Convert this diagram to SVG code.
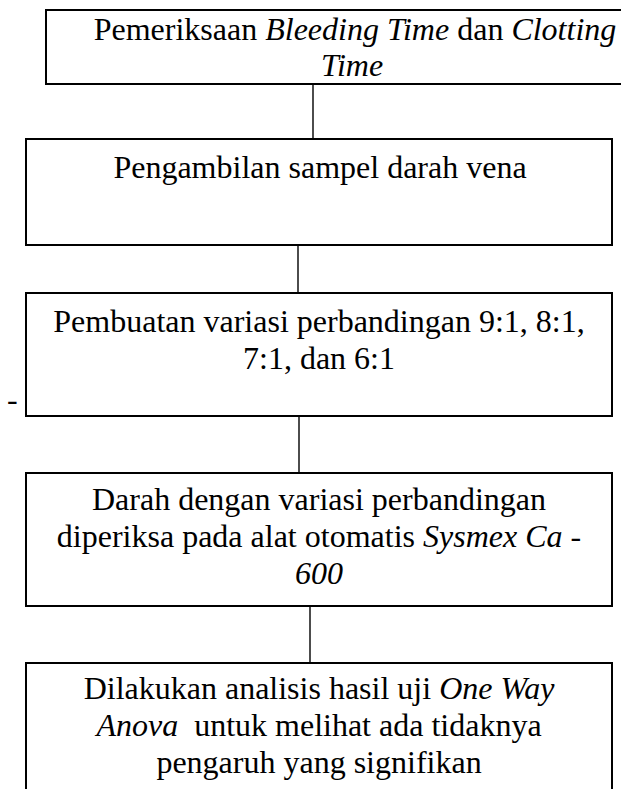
<svg xmlns="http://www.w3.org/2000/svg" width="621" height="789" viewBox="0 0 621 789">
<style>
.box{fill:#fff;stroke:#000;stroke-width:2}
.t{font-family:"Liberation Serif","Times New Roman",serif;font-size:32px;fill:#000;text-anchor:middle}
.i{font-style:italic}
.c{stroke:#000;stroke-width:1.4;fill:none}
</style>
<rect width="621" height="789" fill="#fff"/>
<g id="connectors">
<line class="c" x1="313" y1="84" x2="313" y2="139"/>
<line class="c" x1="298" y1="245" x2="298" y2="293"/>
<line class="c" x1="299" y1="416" x2="299" y2="473"/>
<line class="c" x1="310" y1="606" x2="310" y2="663"/>
</g>
<g id="node1">
<rect class="box" x="46" y="10" width="580" height="74"/>
<text class="t" x="355" y="40">Pemeriksaan <tspan class="i">Bleeding Time</tspan> dan <tspan class="i">Clotting</tspan></text>
<text class="t i" x="352" y="76">Time</text>
</g>
<g id="node2">
<rect class="box" x="26" y="139" width="586" height="106"/>
<text class="t" x="320" y="178">Pengambilan sampel darah vena</text>
</g>
<g id="node3">
<rect class="box" x="26" y="293" width="586" height="123"/>
<text class="t" x="319" y="332">Pembuatan variasi perbandingan 9:1, 8:1,</text>
<text class="t" x="319" y="369">7:1, dan 6:1</text>
</g>
<text x="7" y="410" style="font-family:'Liberation Serif',serif;font-size:32px">-</text>
<g id="node4">
<rect class="box" x="26" y="473" width="586" height="133"/>
<text class="t" x="319" y="510">Darah dengan variasi perbandingan</text>
<text class="t" x="319" y="547">diperiksa pada alat otomatis <tspan class="i">Sysmex Ca -</tspan></text>
<text class="t i" x="319" y="584">600</text>
</g>
<g id="node5">
<rect class="box" x="26" y="663" width="586" height="140"/>
<text class="t" x="319" y="699">Dilakukan analisis hasil uji <tspan class="i">One Way</tspan></text>
<text class="t" x="319" y="736" xml:space="preserve"><tspan class="i">Anova</tspan>  untuk melihat ada tidaknya</text>
<text class="t" x="319" y="773">pengaruh yang signifikan</text>
</g>
</svg>
